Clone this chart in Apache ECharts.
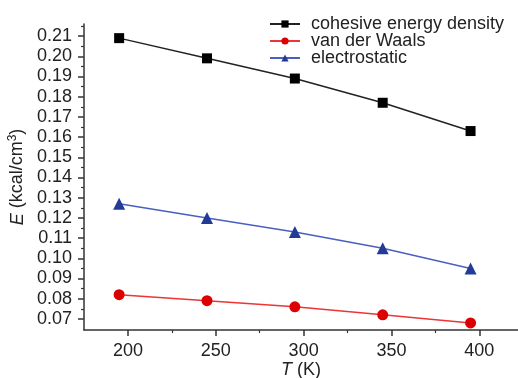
<!DOCTYPE html>
<html><head><meta charset="utf-8">
<script src="https://cdn.jsdelivr.net/npm/echarts@6/dist/echarts.min.js"></script>
<style>html,body{margin:0;padding:0;background:#fff}#c{width:518px;height:378px}</style>
</head><body><div id="c"></div>
<script>
var temps = [195, 245, 295, 345, 395];
var cohesive = [0.209, 0.199, 0.189, 0.177, 0.163];
var vdw = [0.082, 0.079, 0.076, 0.072, 0.068];
var electro = [0.127, 0.120, 0.113, 0.105, 0.095];
var xTicks = [200, 250, 300, 350, 400];
var xMinorTicks = [225, 275, 325, 375];
var yTicks = [0.07, 0.08, 0.09, 0.10, 0.11, 0.12, 0.13, 0.14, 0.15, 0.16, 0.17, 0.18, 0.19, 0.20, 0.21];
var yMinorTicks = [0.075, 0.085, 0.095, 0.105, 0.115, 0.125, 0.135, 0.145, 0.155, 0.165, 0.175, 0.185, 0.195, 0.205, 0.215];

var font = 'Liberation Sans, Arial, sans-serif';
var fs = 18;
function pairs(ys){ return temps.map(function(t,i){return [t, ys[i]];}); }
var xMin = 175, xMax = 422, yMin = 0.0645, yMax = 0.216;
var axisLine = {show:true, lineStyle:{color:'#333', width:1.5}};
var chart = echarts.init(document.getElementById('c'));
chart.setOption({
  animation:false,
  grid:{left:84, right:0, top:24, bottom:48, containLabel:false, outerBoundsMode:'none'},
  legend:{
    orient:'vertical', left:269, top:15, itemGap:-1, itemWidth:30, itemHeight:9, padding:0,
    textStyle:{fontFamily:font, fontSize:fs, color:'#222', padding:[0,0,0,6], lineHeight:18},
    data:['cohesive energy density','van der Waals','electrostatic']
  },
  xAxis:[{
    type:'value', min:xMin, max:xMax,
    axisLine:axisLine,
    axisTick:{show:true, inside:false, length:6, customValues:xTicks, lineStyle:{color:'#333', width:1.5}},
    axisLabel:{customValues:xTicks, fontFamily:font, fontSize:fs, color:'#222', margin:12},
    splitLine:{show:false},
    name:'{i|T} (K)', nameLocation:'middle', nameGap:31, nameMoveOverlap:false,
    nameTextStyle:{fontFamily:font, fontSize:fs, color:'#222', rich:{i:{fontFamily:font, fontSize:fs, fontStyle:'italic', color:'#222'}}}
  },{
    type:'value', min:xMin, max:xMax, position:'bottom',
    axisLine:{show:false},
    axisTick:{show:true, length:3, customValues:xMinorTicks, lineStyle:{color:'#333', width:1.2}},
    axisLabel:{show:false}, splitLine:{show:false}
  }],
  yAxis:[{
    type:'value', min:yMin, max:yMax,
    axisLine:axisLine,
    axisTick:{show:true, length:6, customValues:yTicks, lineStyle:{color:'#333', width:1.5}},
    axisLabel:{customValues:yTicks, fontFamily:font, fontSize:fs, color:'#222', margin:12,
      formatter:function(v){return v.toFixed(2);}},
    splitLine:{show:false},
    name:'{i|E} (kcal/cm{s|3})', nameLocation:'middle', nameGap:56, nameRotate:90, nameMoveOverlap:false,
    nameTextStyle:{fontFamily:font, fontSize:fs, color:'#222', rich:{
      i:{fontFamily:font, fontSize:fs, fontStyle:'italic', color:'#222'},
      s:{fontFamily:font, fontSize:12, color:'#222', verticalAlign:'top', padding:[0,0,9,0]}}}
  },{
    type:'value', min:yMin, max:yMax, position:'left',
    axisLine:{show:false},
    axisTick:{show:true, length:3, customValues:yMinorTicks, lineStyle:{color:'#333', width:1.2}},
    axisLabel:{show:false}, splitLine:{show:false}
  }],
  series:[
    {name:'cohesive energy density', type:'line', data:pairs(cohesive), symbol:'rect', symbolSize:10,
      lineStyle:{color:'#222', width:1.5}, itemStyle:{color:'#000'}},
    {name:'van der Waals', type:'line', data:pairs(vdw), symbol:'circle', symbolSize:11,
      lineStyle:{color:'#ee3535', width:1.5}, itemStyle:{color:'#dd0000'}},
    {name:'electrostatic', type:'line', data:pairs(electro), symbol:'triangle', symbolSize:12,
      lineStyle:{color:'#4a5fc0', width:1.5}, itemStyle:{color:'#233a96'}}
  ]
});
</script></body></html>
